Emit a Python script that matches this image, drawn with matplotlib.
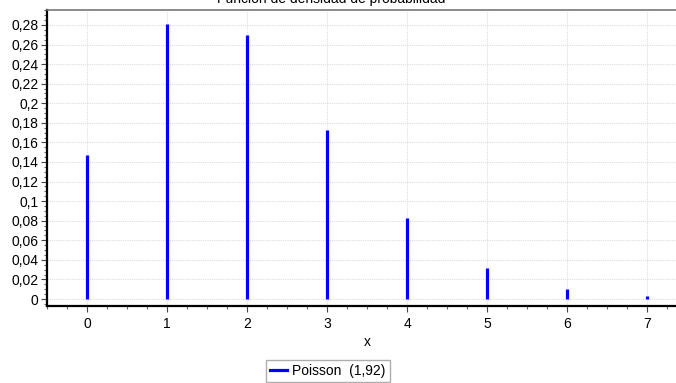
import matplotlib
matplotlib.use("Agg")
import matplotlib.pyplot as plt
from matplotlib.ticker import MultipleLocator, FuncFormatter
from matplotlib.lines import Line2D

# Poisson(1,92) probability mass values
x_vals = [0, 1, 2, 3, 4, 5, 6, 7]
p_vals = [0.147, 0.281, 0.270, 0.173, 0.083, 0.032, 0.010, 0.003]
title = "Función de densidad de probabilidad"
series_label = "Poisson  (1,92)"

plt.rcParams['font.family'] = ['Liberation Sans', 'DejaVu Sans']

W, H = 676, 383
fig = plt.figure(figsize=(W / 100, H / 100), dpi=100)

left, right, top, bottom = 47, 687, 10, 306
ax = fig.add_axes([left / W, 1 - bottom / H, (right - left) / W, (bottom - top) / H])

ax.vlines(x_vals, 0, p_vals, colors="#0000ff", linewidth=2.3)

ax.set_xlim(-0.5, 7.5)
ax.set_ylim(-0.00715, 0.2953)

ax.xaxis.set_major_locator(MultipleLocator(1))
ax.xaxis.set_minor_locator(MultipleLocator(0.25))
ax.yaxis.set_major_locator(MultipleLocator(0.02))
ax.yaxis.set_minor_locator(MultipleLocator(0.005))


def comma_fmt(v, pos):
    s = f"{v:.2f}".rstrip("0").rstrip(".")
    if s in ("-0", ""):
        s = "0"
    return s.replace(".", ",")


ax.yaxis.set_major_formatter(FuncFormatter(comma_fmt))

ax.grid(True, which="major", color="#dddddd", linestyle=(0, (1, 1)), linewidth=0.8)
ax.set_axisbelow(True)

for s in ("left", "bottom"):
    ax.spines[s].set_linewidth(1.6)
    ax.spines[s].set_color("black")
ax.spines["top"].set_color("#777777")
ax.spines["top"].set_linewidth(1.2)
ax.spines["right"].set_visible(False)

ax.tick_params(axis="both", which="major", labelsize=10, colors="#444444",
               labelcolor="black", length=4, width=0.8, pad=2)
ax.tick_params(axis="both", which="minor", colors="#666666", length=2, width=0.8)
ax.tick_params(axis="x", which="major", pad=4)

ax.set_xlabel("x", fontsize=10, labelpad=3)
fig.text(331 / W, 1 - 3 / H, title, ha="center", va="baseline", fontsize=10)

handle = Line2D([], [], color="#0000ff", linewidth=2.3)
fig.legend([handle], [series_label], loc="center",
           bbox_to_anchor=(328 / W, 1 - 371 / H), fontsize=10, frameon=True,
           fancybox=False, edgecolor="#999999", handlelength=1.2,
           handletextpad=0.4, borderpad=0.3, borderaxespad=0)

fig.savefig("out.png", dpi=100)
